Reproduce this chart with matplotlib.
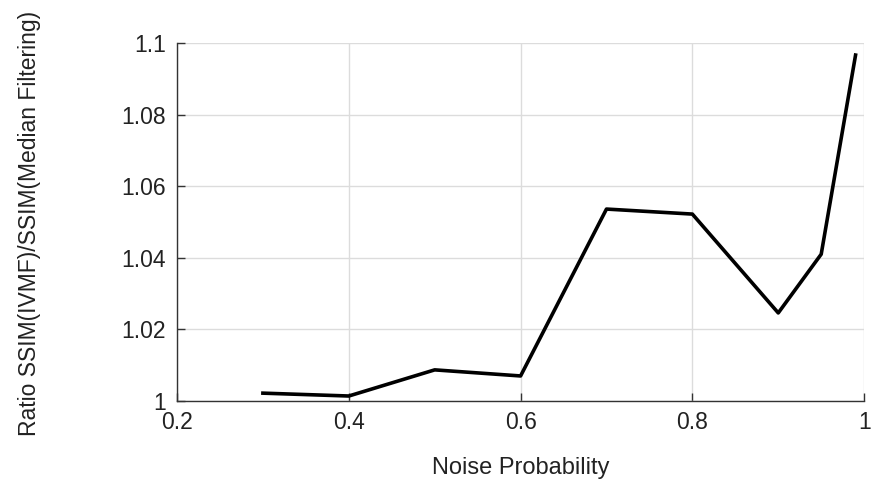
import matplotlib
matplotlib.use("Agg")
import matplotlib.pyplot as plt
from matplotlib import font_manager

# data
noise_prob = [0.3, 0.4, 0.5, 0.6, 0.7, 0.8, 0.9, 0.95, 0.99]
ssim_ratio = [1.0022, 1.0014, 1.0087, 1.0070, 1.0536, 1.0522, 1.0246, 1.0410, 1.0966]

x_ticks = [0.2, 0.4, 0.6, 0.8, 1.0]
x_tick_labels = ["0.2", "0.4", "0.6", "0.8", "1"]
y_ticks = [1.0, 1.02, 1.04, 1.06, 1.08, 1.1]
y_tick_labels = ["1", "1.02", "1.04", "1.06", "1.08", "1.1"]

names = {f.name for f in font_manager.fontManager.ttflist}
has_narrow = "Liberation Sans Narrow" in names

plt.rcParams["font.family"] = ["Liberation Sans", "DejaVu Sans"]

fig = plt.figure(figsize=(8.72, 4.82), dpi=100)
ax = fig.add_axes([0.203, 0.168, 0.788, 0.743])

ax.plot(noise_prob, ssim_ratio, color="black", linewidth=2.6)

ax.set_xlim(0.2, 1.0)
ax.set_ylim(1.0, 1.1)
ax.set_xticks(x_ticks)
ax.set_xticklabels(x_tick_labels)
ax.set_yticks(y_ticks)
ax.set_yticklabels(y_tick_labels)

ax.grid(True, color="#dcdcdc", linewidth=1.0)
ax.set_axisbelow(True)
for side in ("top", "right"):
    ax.spines[side].set_visible(False)
for side in ("left", "bottom"):
    ax.spines[side].set_color("#333333")
    ax.spines[side].set_linewidth(1.0)

ax.tick_params(direction="in", length=6, width=1.0, colors="#333333",
               labelsize=16.5, labelcolor="#222222")
ax.tick_params(axis="y", pad=8)
ax.tick_params(axis="x", pad=7)

ax.set_xlabel("Noise Probability", fontsize=17, color="#222222", labelpad=17)
if has_narrow:
    fig.text(0.034, 0.537, "Ratio SSIM(IVMF)/SSIM(Median Filtering)", rotation=90,
             ha="center", va="center", fontsize=20, family="Liberation Sans Narrow",
             color="#222222")
else:
    fig.text(0.034, 0.537, "Ratio SSIM(IVMF)/SSIM(Median Filtering)", rotation=90,
             ha="center", va="center", fontsize=16.5, color="#222222")

fig.savefig("out.png", dpi=100)
